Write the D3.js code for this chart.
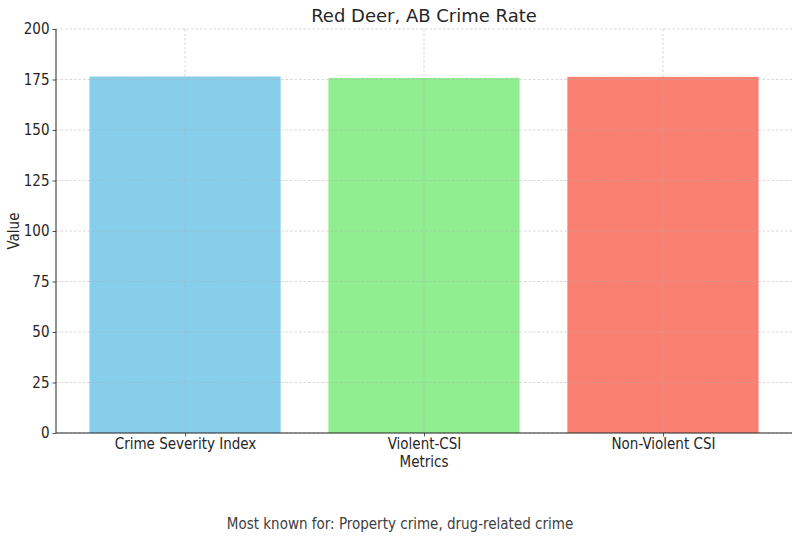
<!DOCTYPE html>
<html><head><meta charset="utf-8">
<script src="https://cdn.jsdelivr.net/npm/d3@7"></script>
<style>body{margin:0;background:#fff}svg{font-family:"DejaVu Sans Condensed","DejaVu Sans",sans-serif}</style>
</head><body><svg id="c" width="800" height="540"></svg>
<script>
const categories = ["Crime Severity Index", "Violent-CSI", "Non-Violent CSI"];
const values = [176.5, 175.8, 176.3];
const colors = ["#87CEEB", "#90EE90", "#FA8072"];
const yTicks = [0, 25, 50, 75, 100, 125, 150, 175, 200];
const title = "Red Deer, AB Crime Rate";
const xLabel = "Metrics", yLabel = "Value";
const footer = "Most known for: Property crime, drug-related crime";

const svg = d3.select("#c");
const L = 56, R = 792, T = 29, B = 433;
const x = d3.scaleLinear().domain([-0.54, 2.54]).range([L, R]);
const y = d3.scaleLinear().domain([0, 200]).range([B, T]);
const bw = 0.8;
const F = "DejaVu Sans Condensed";

svg.selectAll("rect.bar").data(values).join("rect")
  .attr("x", (d, i) => x(i - bw / 2)).attr("width", (d, i) => x(i + bw / 2) - x(i - bw / 2))
  .attr("y", d => y(d)).attr("height", d => y(0) - y(d))
  .attr("fill", (d, i) => colors[i]);

// grid
const g = svg.append("g").attr("stroke", "#b0b0b0").attr("stroke-width", 0.8)
  .attr("stroke-dasharray", "2.5,2").attr("opacity", 0.6);
g.selectAll("line.h").data(yTicks).join("line")
  .attr("x1", L).attr("x2", R).attr("y1", d => y(d)).attr("y2", d => y(d));
g.selectAll("line.v").data(categories).join("line")
  .attr("x1", (d, i) => x(i)).attr("x2", (d, i) => x(i)).attr("y1", T).attr("y2", B);

// axes
const ya = svg.append("g").attr("transform", `translate(${L},0)`)
  .call(d3.axisLeft(y).tickValues(yTicks).tickSize(3.5).tickPadding(3));
const xa = svg.append("g").attr("transform", `translate(0,${B})`)
  .call(d3.axisBottom(x).tickValues(categories.map((c, i) => i)).tickFormat(i => categories[i]).tickSize(3.5).tickPadding(1.5));
[ya, xa].forEach(a => {
  a.selectAll("text").attr("font-size", 15).attr("fill", "#262626").attr("font-family", F);
  a.selectAll("line").attr("stroke", "#262626").attr("stroke-width", 0.8);
});
ya.select(".domain").attr("stroke", "#262626").attr("stroke-width", 1).attr("d", `M0,${T}V${B}`);
xa.select(".domain").attr("stroke", "#262626").attr("stroke-width", 1).attr("d", `M${L},0H${R}`);

svg.append("text").attr("x", (L + R) / 2).attr("y", 22).attr("text-anchor", "middle")
  .attr("font-size", 18).attr("font-family", "DejaVu Sans").attr("fill", "#262626").text(title);
svg.append("text").attr("x", (L + R) / 2).attr("y", 467).attr("text-anchor", "middle")
  .attr("font-size", 15).attr("font-family", F).attr("fill", "#262626").text(xLabel);
svg.append("text").attr("transform", `translate(19,${(T + B) / 2}) rotate(-90)`).attr("text-anchor", "middle")
  .attr("font-size", 15).attr("font-family", F).attr("fill", "#262626").text(yLabel);
svg.append("text").attr("x", 400).attr("y", 529).attr("text-anchor", "middle")
  .attr("font-size", 15).attr("font-family", F).attr("fill", "#404040").text(footer);
</script></body></html>
